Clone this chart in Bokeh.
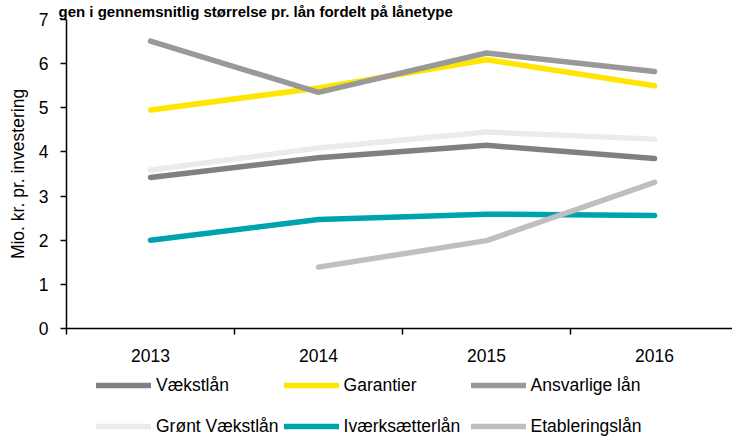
import math
from bokeh.plotting import figure
from bokeh.layouts import column
from bokeh.models import Range1d, FixedTicker, Legend, LegendItem
from bokeh.embed import file_html
from bokeh.resources import INLINE

title_text = "gen i gennemsnitlig størrelse pr. lån fordelt på lånetype"
years = ["2013", "2014", "2015", "2016"]
y_ticks = [0, 1, 2, 3, 4, 5, 6, 7]

vaekstlaan = [3.42, 3.87, 4.15, 3.85]
garantier = [4.95, 5.45, 6.09, 5.50]
ansvarlige = [6.51, 5.35, 6.24, 5.82]
groent = [3.59, 4.09, 4.45, 4.29]
ivaerk = [2.00, 2.47, 2.59, 2.56]
etabl = [None, 1.39, 1.99, 3.31]

series = [
    ("Vækstlån", vaekstlaan, "#808080"),
    ("Garantier", garantier, "#FFE600"),
    ("Ansvarlige lån", ansvarlige, "#999999"),
    ("Grønt Vækstlån", groent, "#EBEBEB"),
    ("Iværksætterlån", ivaerk, "#00A3AD"),
    ("Etableringslån", etabl, "#BFBFBF"),
]

FONT = "Liberation Sans"
FS = "17.5px"

xs = [i + 1 for i in range(len(years))]

# ---------------- main chart ----------------
p = figure(width=732, height=367, x_range=Range1d(0.5, 4.464), y_range=Range1d(0, 7),
           output_backend="svg", toolbar_location=None,
           min_border_left=66, min_border_right=0, min_border_top=19, min_border_bottom=39)
p.outline_line_color = None
p.xgrid.visible = False
p.ygrid.visible = False

p.title.text = title_text
p.title.align = "left"
p.title.offset = -8
p.title.standoff = 0
p.title.text_font = FONT
p.title.text_font_size = "15px"
p.title.text_font_style = "bold"
p.title.text_color = "black"

line_style = dict(line_width=5.5, line_cap="round", line_join="round")

for name, vals, col in series:
    ys = [math.nan if v is None else v for v in vals]
    p.line(xs, ys, line_color=col, **line_style)

xa = p.xaxis[0]
xa.ticker = FixedTicker(ticks=xs, minor_ticks=[x - 0.5 for x in xs])
xa.major_label_overrides = {x: y for x, y in zip(xs, years)}
xa.major_tick_out = 0
xa.major_tick_in = 0
xa.minor_tick_out = 6
xa.minor_tick_in = 0
xa.minor_tick_line_color = "black"
xa.minor_tick_line_width = 1.5
xa.major_label_standoff = 14
xa.axis_line_color = "black"
xa.axis_line_width = 1.5
xa.major_label_text_font = FONT
xa.major_label_text_font_size = FS
xa.major_label_text_color = "black"

ya = p.yaxis[0]
ya.ticker = FixedTicker(ticks=y_ticks, minor_ticks=[])
ya.major_tick_out = 6
ya.major_tick_in = 0
ya.major_tick_line_color = "black"
ya.major_tick_line_width = 1.5
ya.axis_line_color = "black"
ya.axis_line_width = 1.5
ya.major_label_standoff = 12
ya.major_label_text_font = FONT
ya.major_label_text_font_size = FS
ya.major_label_text_color = "black"
ya.axis_label = "Mio. kr. pr. investering"
ya.axis_label_text_font = FONT
ya.axis_label_text_font_size = FS
ya.axis_label_text_font_style = "normal"
ya.axis_label_text_color = "black"
ya.axis_label_standoff = 8

# ---------------- legend strip ----------------
lg = figure(width=732, height=72, x_range=Range1d(100, 101), y_range=Range1d(100, 101),
            output_backend="svg", toolbar_location=None,
            x_axis_location=None, y_axis_location=None,
            min_border_left=0, min_border_right=0, min_border_top=0, min_border_bottom=0)
lg.outline_line_color = None
lg.xgrid.visible = False
lg.ygrid.visible = False

items = []
for name, vals, col in series:
    ys = [math.nan if v is None else v for v in vals]
    r = lg.line(xs, ys, line_color=col, **line_style)
    items.append(LegendItem(label=name, renderers=[r]))

legend = Legend(items=items, location=(30, -5), ncols=3, orientation="horizontal",
                border_line_color=None, background_fill_alpha=0, padding=0, margin=0,
                glyph_width=55, glyph_height=36, label_standoff=5, spacing=5,
                label_width=122, label_text_font=FONT, label_text_font_size=FS,
                label_text_color="black")
lg.add_layout(legend)

layout = column(p, lg, spacing=0)
open("out.html", "w").write(file_html(layout, INLINE))
